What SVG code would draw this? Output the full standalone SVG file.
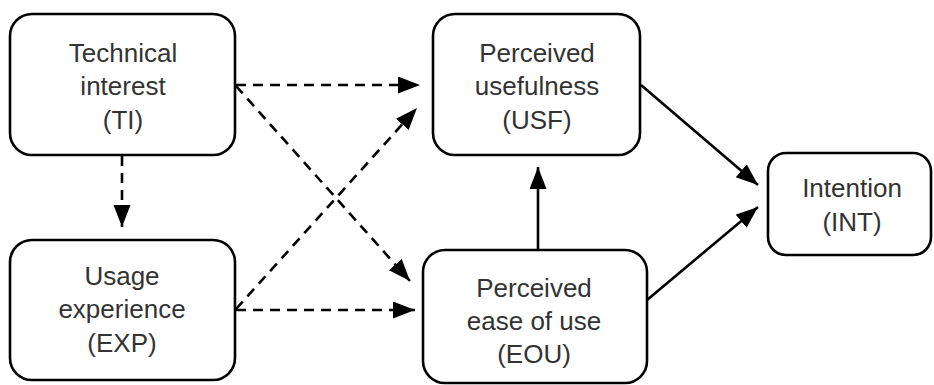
<svg xmlns="http://www.w3.org/2000/svg" width="934" height="385" viewBox="0 0 934 385">
  <style>
    .box { fill: #ffffff; stroke: #000000; stroke-width: 2.6; }
    .lbl { font-family: "Liberation Sans", Arial, sans-serif; font-size: 26px; fill: #333333; text-anchor: middle; }
    .dash { fill: none; stroke: #000000; stroke-width: 2.6; stroke-dasharray: 10 7; marker-end: url(#head); }
    .solid { fill: none; stroke: #000000; stroke-width: 2.6; marker-end: url(#head); }
  </style>
  <defs>
    <marker id="head" markerUnits="userSpaceOnUse" markerWidth="23" markerHeight="18" refX="22" refY="8.5" orient="auto">
      <path d="M0,0 L22,8.5 L0,17 z" fill="#000000"/>
    </marker>
  </defs>
  <rect width="934" height="385" fill="#ffffff"/>

  <g id="connectors">
    <!-- hypothesised external-variable paths (dashed) -->
    <line class="dash" x1="122" y1="156" x2="122" y2="227"/>
    <line class="dash" x1="236" y1="85" x2="420" y2="85"/>
    <line class="dash" x1="236" y1="86" x2="410" y2="281"/>
    <line class="dash" x1="236" y1="309" x2="417" y2="108"/>
    <line class="dash" x1="236" y1="310" x2="415" y2="310"/>
    <!-- core TAM paths (solid) -->
    <line class="solid" x1="538" y1="250" x2="538" y2="167"/>
    <line class="solid" x1="641" y1="85" x2="758" y2="185"/>
    <line class="solid" x1="647" y1="300" x2="758" y2="207"/>
  </g>

  <g id="node-ti">
    <rect class="box" x="10" y="14" width="225" height="141" rx="22"/>
    <text class="lbl" x="123" y="62">Technical</text>
    <text class="lbl" x="123" y="95">interest</text>
    <text class="lbl" x="123" y="129">(TI)</text>
  </g>

  <g id="node-exp">
    <rect class="box" x="10" y="240" width="225" height="140" rx="22"/>
    <text class="lbl" x="122" y="285">Usage</text>
    <text class="lbl" x="122" y="318">experience</text>
    <text class="lbl" x="122" y="352">(EXP)</text>
  </g>

  <g id="node-usf">
    <rect class="box" x="433" y="14" width="207" height="141" rx="22"/>
    <text class="lbl" x="537" y="62">Perceived</text>
    <text class="lbl" x="537" y="95">usefulness</text>
    <text class="lbl" x="537" y="129">(USF)</text>
  </g>

  <g id="node-eou">
    <rect class="box" x="423" y="250" width="224" height="133" rx="22"/>
    <text class="lbl" x="534" y="297">Perceived</text>
    <text class="lbl" x="534" y="330">ease of use</text>
    <text class="lbl" x="534" y="363">(EOU)</text>
  </g>

  <g id="node-int">
    <rect class="box" x="768" y="153" width="163" height="102" rx="18"/>
    <text class="lbl" x="852" y="197">Intention</text>
    <text class="lbl" x="852" y="231">(INT)</text>
  </g>
</svg>
